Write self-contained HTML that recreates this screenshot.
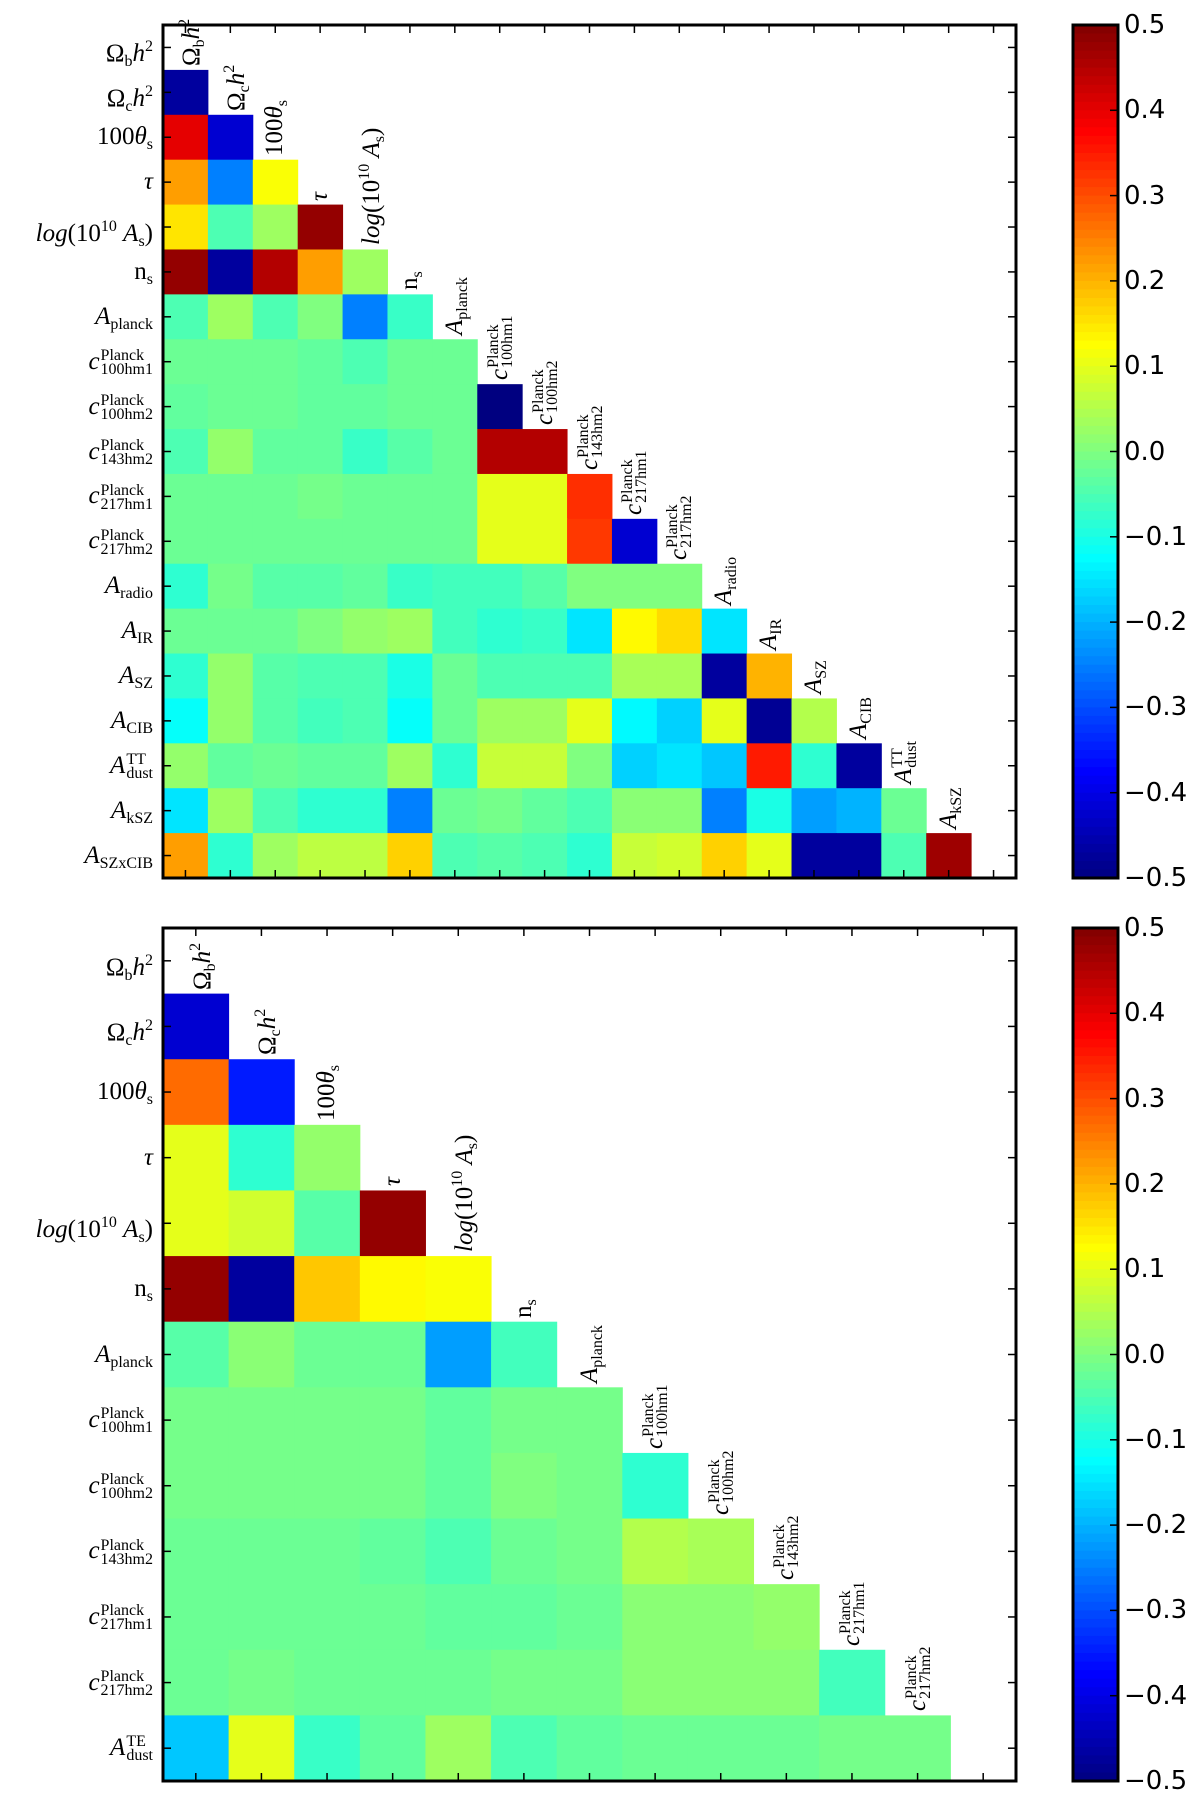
<!DOCTYPE html>
<html><head><meta charset="utf-8">
<style>
body{margin:0;background:#fff;width:1200px;height:1800px;position:relative;overflow:hidden;font-family:"Liberation Serif",serif;}
svg{position:absolute;left:0;top:0}
.lab{position:absolute;white-space:nowrap;font-family:"Liberation Serif",serif;font-size:25px;color:#000;line-height:30px;}
.ylab{text-align:right;width:150px;}
.ss{display:inline-flex;flex-direction:column;font-size:16px;line-height:14px;vertical-align:middle;text-align:left;margin-left:1px}
.sup{font-size:16px;vertical-align:10px}
.sub{font-size:16px;vertical-align:-5px}
.cbl{position:absolute;font-family:"DejaVu Sans","Liberation Sans",sans-serif;font-size:26px;color:#000;line-height:26px}
</style></head>
<body>
<svg id="chart" width="1200" height="1800"></svg>
<div id="labels"></div>
<script>
// ---- data ----
const topParams = ["Ωb","Ωc","θ","τ","logA","ns","Apl","c1","c2","c3","c4","c5","Arad","AIR","ASZ","ACIB","Adust","AkSZ","ASZxCIB"];
const topValues = [
 [],
 [-0.47],
 [0.40,-0.42],
 [0.22,-0.25,0.12],
 [0.15,-0.05,0.03,0.48],
 [0.48,-0.47,0.45,0.22,0.03],
 [-0.05,0.03,-0.05,0.0,-0.25,-0.07],
 [-0.02,-0.02,-0.02,-0.03,-0.05,-0.02,-0.02],
 [-0.03,-0.02,-0.02,-0.03,-0.03,-0.02,-0.02,-0.5],
 [-0.05,0.02,-0.03,-0.03,-0.07,-0.04,-0.02,0.45,0.45],
 [-0.02,-0.02,-0.02,-0.01,-0.02,-0.02,-0.02,0.1,0.1,0.33],
 [-0.02,-0.02,-0.02,-0.02,-0.02,-0.02,-0.02,0.1,0.1,0.32,-0.42],
 [-0.08,-0.01,-0.04,-0.04,-0.03,-0.07,-0.06,-0.06,-0.04,0.0,0.0,0.0],
 [-0.02,-0.02,-0.02,0.0,0.02,0.03,-0.06,-0.08,-0.07,-0.15,0.13,0.16,-0.15],
 [-0.08,0.02,-0.04,-0.05,-0.05,-0.1,-0.02,-0.05,-0.05,-0.05,0.04,0.04,-0.47,0.2],
 [-0.12,0.02,-0.04,-0.06,-0.05,-0.12,-0.02,0.03,0.03,0.1,-0.13,-0.17,0.1,-0.48,0.05],
 [0.02,-0.03,-0.02,-0.03,-0.03,0.03,-0.08,0.07,0.07,0.0,-0.17,-0.15,-0.18,0.35,-0.08,-0.47],
 [-0.15,0.03,-0.05,-0.08,-0.08,-0.25,-0.02,-0.01,-0.03,-0.05,0.01,0.01,-0.25,-0.1,-0.22,-0.2,-0.02],
 [0.22,-0.08,0.03,0.06,0.06,0.17,-0.05,-0.04,-0.05,-0.08,0.07,0.08,0.17,0.1,-0.47,-0.47,-0.05,0.47]
];
const bottomParams = ["Ωb","Ωc","θ","τ","logA","ns","Apl","c1","c2","c3","c4","c5","AdustTE"];
const bottomValues = [
 [],
 [-0.42],
 [0.27,-0.35],
 [0.1,-0.08,0.02],
 [0.1,0.08,-0.04,0.48],
 [0.48,-0.47,0.18,0.13,0.12],
 [-0.04,0.01,-0.02,-0.02,-0.22,-0.06],
 [-0.01,-0.01,-0.01,-0.01,-0.03,-0.01,-0.01],
 [-0.01,-0.01,-0.01,-0.01,-0.03,0.0,-0.01,-0.08],
 [-0.02,-0.02,-0.02,-0.03,-0.05,-0.02,-0.01,0.05,0.04],
 [-0.02,-0.02,-0.02,-0.02,-0.03,-0.03,-0.02,0.01,0.01,0.02],
 [-0.02,-0.01,-0.02,-0.02,-0.02,-0.01,-0.01,0.01,0.01,0.01,-0.06],
 [-0.18,0.1,-0.07,-0.03,0.03,-0.05,-0.03,-0.02,-0.02,-0.02,-0.01,-0.01]
];
const cbTicks = [0.5,0.4,0.3,0.2,0.1,0.0,-0.1,-0.2,-0.3,-0.4,-0.5];
const cbTickLabels = ["0.5","0.4","0.3","0.2","0.1","0.0","\u22120.1","\u22120.2","\u22120.3","\u22120.4","\u22120.5"];

const LABELS = {
 "Ωb":'Ω<span class="sub">b</span><i>h</i><span class="sup">2</span>',
 "Ωc":'Ω<span class="sub">c</span><i>h</i><span class="sup">2</span>',
 "θ":'100<i>θ</i><span class="sub">s</span>',
 "τ":'<i>τ</i>',
 "logA":'<i>log</i>(10<span class="sup">10</span> <i>A</i><span class="sub">s</span>)',
 "ns":'n<span class="sub">s</span>',
 "Apl":'<i>A</i><span class="sub">planck</span>',
 "c1":'<i>c</i><span class="ss"><span>Planck</span><span>100hm1</span></span>',
 "c2":'<i>c</i><span class="ss"><span>Planck</span><span>100hm2</span></span>',
 "c3":'<i>c</i><span class="ss"><span>Planck</span><span>143hm2</span></span>',
 "c4":'<i>c</i><span class="ss"><span>Planck</span><span>217hm1</span></span>',
 "c5":'<i>c</i><span class="ss"><span>Planck</span><span>217hm2</span></span>',
 "Arad":'<i>A</i><span class="sub">radio</span>',
 "AIR":'<i>A</i><span class="sub">IR</span>',
 "ASZ":'<i>A</i><span class="sub">SZ</span>',
 "ACIB":'<i>A</i><span class="sub">CIB</span>',
 "Adust":'<i>A</i><span class="ss"><span>TT</span><span>dust</span></span>',
 "AkSZ":'<i>A</i><span class="sub">kSZ</span>',
 "ASZxCIB":'<i>A</i><span class="sub">SZxCIB</span>',
 "AdustTE":'<i>A</i><span class="ss"><span>TE</span><span>dust</span></span>'
};

function jet(v){
  let x=(v+0.5)/1.0; x=Math.max(0,Math.min(1,x));
  const c=t=>Math.round(255*Math.max(0,Math.min(1,t)));
  return `rgb(${c(1.5-Math.abs(4*x-3))},${c(1.5-Math.abs(4*x-2))},${c(1.5-Math.abs(4*x-1))})`;
}
const NS="http://www.w3.org/2000/svg";
const svg=document.getElementById('chart');
const labDiv=document.getElementById('labels');
function mk(tag,attrs,parent){const e=document.createElementNS(NS,tag);for(const k in attrs)e.setAttribute(k,attrs[k]);(parent||svg).appendChild(e);return e;}

function drawPanel(params,values,X0,Y0,W,pname){
  const n=params.length, cell=W/n;
  const g=mk('g',{});
  
  
  const xs=j=>X0+j*cell, ys=i=>Y0+i*cell;
  values.forEach((row,i)=>row.forEach((v,j)=>{
    const r=mk('rect',{x:xs(j),y:ys(i),width:cell+0.5,height:cell+0.5,fill:jet(v)},g);
    
    
  }));
  for(let k=0;k<n;k++){
    const c=xs(k)+cell/2;
    mk('line',{x1:c,x2:c,y1:Y0,y2:Y0+8,stroke:'#000','stroke-width':1.5},g);
    mk('line',{x1:c,x2:c,y1:Y0+W,y2:Y0+W-8,stroke:'#000','stroke-width':1.5},g);
    const cy=ys(k)+cell/2;
    mk('line',{x1:X0,x2:X0+8,y1:cy,y2:cy,stroke:'#000','stroke-width':1.5},g);
    mk('line',{x1:X0+W,x2:X0+W-8,y1:cy,y2:cy,stroke:'#000','stroke-width':1.5},g);
  }
  const fr=mk('rect',{x:X0,y:Y0,width:W,height:W,fill:'none',stroke:'#000','stroke-width':3},g);
  
  
  params.forEach((p,i)=>{
    const d=document.createElement('div');
    d.className='lab ylab';
    d.innerHTML=LABELS[p];
    d.style.left=(X0-160)+'px';
    d.style.top=(ys(i)+cell/2-15)+'px';
    
    
    labDiv.appendChild(d);
    if(i<n-1){
      const t=document.createElement('div');
      t.className='lab';
      t.innerHTML=LABELS[p];
      t.style.left=(xs(i)+cell/2-15)+'px';
      t.style.top=(ys(i)+cell-4)+'px';
      t.style.transformOrigin='0 0';
      t.style.transform='rotate(-90deg)';
      
      
      labDiv.appendChild(t);
    }
  });
}
function drawColorbar(X0,Y0,W,H,pname){
  const g=mk('g',{});
  
  
  const steps=100;
  for(let s=0;s<steps;s++){
    const v=0.5-(s+0.5)/steps;
    mk('rect',{x:X0,y:Y0+s*H/steps,width:W,height:H/steps+0.6,fill:jet(v)},g);
  }
  mk('rect',{x:X0,y:Y0,width:W,height:H,fill:'none',stroke:'#000','stroke-width':3},g);
  const yv=v=>Y0+(0.5-v)*H;
  cbTicks.forEach((t,k)=>{
    mk('line',{x1:X0+W-8,x2:X0+W,y1:yv(t),y2:yv(t),stroke:'#000','stroke-width':1.5},g);
    const d=document.createElement('div');
    d.className='cbl';
    d.textContent=cbTickLabels[k];
    d.style.left=(X0+W+6)+'px';
    d.style.top=(yv(t)-13)+'px';
    
    
    labDiv.appendChild(d);
  });
}
drawPanel(topParams,topValues,163,25,853,'top');
drawColorbar(1073,25,45,853,'top');
drawPanel(bottomParams,bottomValues,163,928,853,'bottom');
drawColorbar(1073,928,45,853,'bottom');
</script>
</body></html>
